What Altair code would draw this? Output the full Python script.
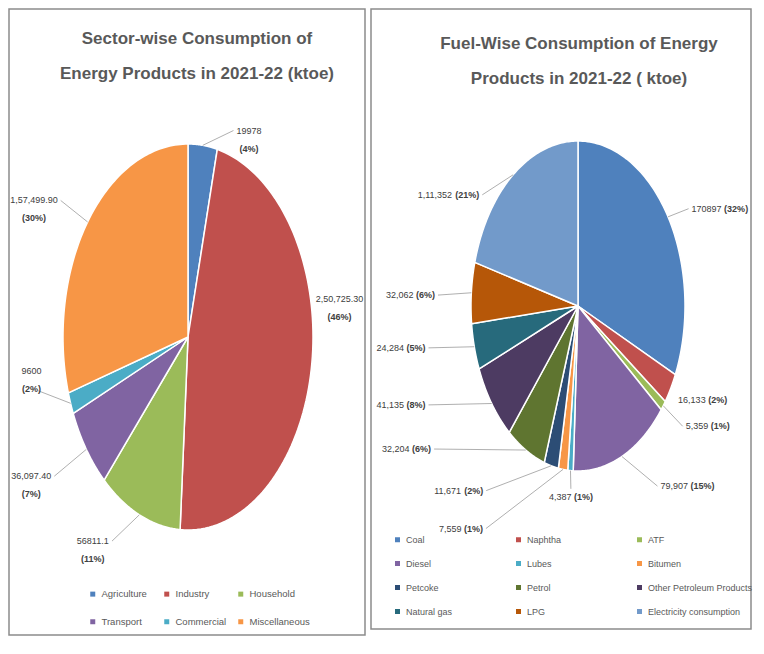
import altair as alt
import pandas as pd

FONT = "Liberation Sans, Arial, sans-serif"

# ---------------- data: sector-wise ----------------
sector_names = ["Agriculture", "Industry", "Household", "Transport", "Commercial", "Miscellaneous"]
sector_values = [19978, 250725.30, 56811.1, 36097.40, 9600, 157499.90]
sector_value_labels = ["19978", "2,50,725.30", "56811.1", "36,097.40", "9600", "1,57,499.90"]
sector_pct_labels = ["(4%)", "(46%)", "(11%)", "(7%)", "(2%)", "(30%)"]
sector_colors = ["#4F81BD", "#C0504D", "#9BBB59", "#8064A2", "#4BACC6", "#F79646"]

# ---------------- data: fuel-wise ----------------
fuel_names = ["Coal", "Naphtha", "ATF", "Diesel", "Lubes", "Bitumen", "Petcoke", "Petrol",
              "Other Petroleum Products", "Natural gas", "LPG", "Electricity consumption"]
fuel_values = [170897, 16133, 5359, 79907, 4387, 7559, 11671, 32204, 41135, 24284, 32062, 111352]
fuel_value_labels = ["170897", "16,133", "5,359", "79,907", "4,387", "7,559", "11,671", "32,204",
                     "41,135", "24,284", "32,062", "1,11,352"]
fuel_pct_labels = ["(32%)", "(2%)", "(1%)", "(15%)", "(1%)", "(1%)", "(2%)", "(6%)", "(8%)", "(5%)", "(6%)", "(21%)"]
fuel_colors = ["#4F81BD", "#C0504D", "#9BBB59", "#8064A2", "#4BACC6", "#F79646",
               "#2C4D75", "#5F7530", "#4D3B62", "#276A7C", "#B65708", "#729ACA"]

# ---------------- label layout nudges (degrees / leader reach) ----------------
sector_label_shift = [12, -13.6, 7, 1.6, 7, -1.8]
sector_label_reach = [1.13, 1.09, 1.22, 1.29, 1.23, 1.24]
sector_label_above = [0, 1, 0, 0, 1, 0]
fuel_label_shift = [3, 2, -0.5, -10, -0.6, 24.5, 23, 28, 13, 4, -1.7, -15.7]
fuel_label_reach = [1.19, 1.07, 1.22, 1.32, 1.11, 1.6, 1.41, 1.6, 1.52, 1.42, 1.31, 1.12]
fuel_label_above = [0] * len(fuel_names)

NP = 90
LFS = 9  # label font size


def build_df(names, values, vlabels, plabels, shifts, reaches, above):
    return pd.DataFrame({
        "name": names, "value": values, "vlab": vlabels, "plab": plabels,
        "order": list(range(len(names))), "lshift": shifts, "reach": reaches, "above": above,
    })


def panel(df, names, colors, W, H, cx, cy, rx, ry, title_lines, tx, ty, legend, two_line):
    xs = alt.Scale(domain=[0, W], nice=False, zero=False)
    ys = alt.Scale(domain=[0, H], nice=False, zero=False, reverse=True)
    base = (
        alt.Chart(df)
        .transform_joinaggregate(total="sum(value)")
        .transform_window(cum="sum(value)", sort=[alt.SortField("order")], frame=[None, 0])
        .transform_calculate(a0="2*PI*(datum.cum - datum.value)/datum.total")
        .transform_calculate(a1="2*PI*datum.cum/datum.total")
        .transform_calculate(am="(datum.a0 + datum.a1)/2")
        .transform_calculate(la="datum.am + datum.lshift*PI/180")
        .transform_calculate(ex=f"{cx} + {rx}*sin(datum.am)")
        .transform_calculate(ey=f"{cy} - {ry}*cos(datum.am)")
        .transform_calculate(ax=f"{cx} + datum.reach*{rx}*sin(datum.la)")
        .transform_calculate(ay=f"{cy} - datum.reach*{ry}*cos(datum.la)")
    )

    slices = (
        base.transform_calculate(k=f"sequence(0, {NP + 2})")
        .transform_flatten(["k"])
        .transform_calculate(t=f"datum.a0 + (datum.a1 - datum.a0) * (datum.k - 1) / {NP - 1}")
        .transform_calculate(px=f"(datum.k == 0 || datum.k == {NP + 1}) ? {cx} : {cx} + {rx} * sin(datum.t)")
        .transform_calculate(py=f"(datum.k == 0 || datum.k == {NP + 1}) ? {cy} : {cy} - {ry} * cos(datum.t)")
        .mark_line(filled=True, stroke="white", strokeWidth=1.5, strokeJoin="round")
        .encode(
            x=alt.X("px:Q", scale=xs, axis=None),
            y=alt.Y("py:Q", scale=ys, axis=None),
            order=alt.Order("k:Q"),
            color=alt.Color("name:N", scale=alt.Scale(domain=names, range=colors), legend=legend),
        )
    )

    leaders = (
        base.transform_filter("datum.reach > 1.1")
        .mark_rule(color="#a6a6a6", strokeWidth=0.9)
        .encode(
            x=alt.X("ex:Q", scale=xs, axis=None),
            y=alt.Y("ey:Q", scale=ys, axis=None),
            x2="ax:Q",
            y2="ay:Q",
        )
    )

    # text widths from Arial/Liberation Sans metrics (digit 0.556 em, , . 0.278 em, ( ) 0.333 em, % 0.889 em)
    tbase = (
        base.transform_calculate(npunct="length(datum.vlab) - length(replace(datum.vlab, regexp('[.,]', 'g'), ''))")
        .transform_calculate(valw=f"{LFS}*(0.556*(length(datum.vlab) - datum.npunct) + 0.278*datum.npunct)")
        .transform_calculate(pctw=f"{LFS}*(1.555 + 0.556*(length(datum.plab) - 3))")
    )
    tstyle = dict(font=FONT, fontSize=LFS, color="#404040", baseline="middle")

    if two_line:
        tb = (
            tbase.transform_calculate(side="sin(datum.la) >= 0 ? 1 : -1")
            .transform_calculate(tcx="datum.above == 1 ? datum.ax + datum.side*datum.valw/3 : (datum.side == 1 ? datum.ax + 3 + datum.valw/2 : datum.ax - 3 - datum.valw/2)")
            .transform_calculate(ty1="datum.above == 1 ? datum.ay - 20 : datum.ay")
            .transform_calculate(ty2="datum.ty1 + 18")
        )
        vtext = tb.mark_text(align="center", **tstyle).encode(
            x=alt.X("tcx:Q", scale=xs, axis=None), y=alt.Y("ty1:Q", scale=ys, axis=None), text="vlab:N")
        ptext = tb.mark_text(align="center", fontWeight="bold", **tstyle).encode(
            x=alt.X("tcx:Q", scale=xs, axis=None), y=alt.Y("ty2:Q", scale=ys, axis=None), text="plab:N")
    else:
        tb = (
            tbase.transform_calculate(side="sin(datum.la) > 0.3 ? 1 : (sin(datum.la) < -0.3 ? -1 : 0)")
            .transform_calculate(vx="datum.side == 1 ? datum.ax + 3 : (datum.side == -1 ? datum.ax - 5.5 - datum.pctw - datum.valw : datum.ax - (datum.valw + 2.5 + datum.pctw)/2)")
            .transform_calculate(ppx="datum.vx + datum.valw + 2.5")
            .transform_calculate(ty="datum.side == 0 ? datum.ay + 8 : datum.ay")
        )
        vtext = tb.mark_text(align="left", **tstyle).encode(
            x=alt.X("vx:Q", scale=xs, axis=None), y=alt.Y("ty:Q", scale=ys, axis=None), text="vlab:N")
        ptext = tb.mark_text(align="left", fontWeight="bold", **tstyle).encode(
            x=alt.X("ppx:Q", scale=xs, axis=None), y=alt.Y("ty:Q", scale=ys, axis=None), text="plab:N")

    title = alt.Chart(alt.Data(values=[{"a": 1}])).mark_text(
        text=title_lines, font=FONT, fontSize=17, fontWeight="bold", color="#595959",
        lineHeight=35, align="center", baseline="top",
    ).encode(x=alt.value(tx), y=alt.value(ty))

    return alt.layer(slices, leaders, vtext, ptext, title).properties(width=W, height=H)


def make_legend(lx, ly, colpad, rowpad, fs):
    return alt.Legend(
        orient="none", legendX=lx, legendY=ly, direction="horizontal", columns=3, title=None,
        symbolType="square", symbolSize=25, symbolStrokeWidth=0, labelFont=FONT, labelFontSize=fs,
        labelColor="#595959", labelOffset=4, gridAlign="all", columnPadding=colpad, rowPadding=rowpad,
    )


sector_df = build_df(sector_names, sector_values, sector_value_labels, sector_pct_labels,
                     sector_label_shift, sector_label_reach, sector_label_above)
fuel_df = build_df(fuel_names, fuel_values, fuel_value_labels, fuel_pct_labels,
                   fuel_label_shift, fuel_label_reach, fuel_label_above)

left = panel(sector_df, sector_names, sector_colors, 356, 626, 179, 328, 125, 193,
             ["Sector-wise Consumption of", "Energy Products in 2021-22 (ktoe)"], 188, 22,
             make_legend(79, 580, 0, 17, 9.5), True)
right = panel(fuel_df, fuel_names, fuel_colors, 380, 620, 207, 297, 107, 165,
              ["Fuel-Wise Consumption of Energy", "Products in 2021-22 ( ktoe)"], 208, 27,
              make_legend(22, 526, 3, 14, 9), False)

chart = (
    alt.hconcat(left, right, spacing=4)
    .resolve_scale(color="independent", x="independent", y="independent")
    .resolve_legend(color="independent")
    .configure_view(stroke="#8c8c8c", strokeWidth=1.5)
    .properties(padding=0, background="white")
)

chart.save("out.html", embed_options={"renderer": "svg", "actions": False})
